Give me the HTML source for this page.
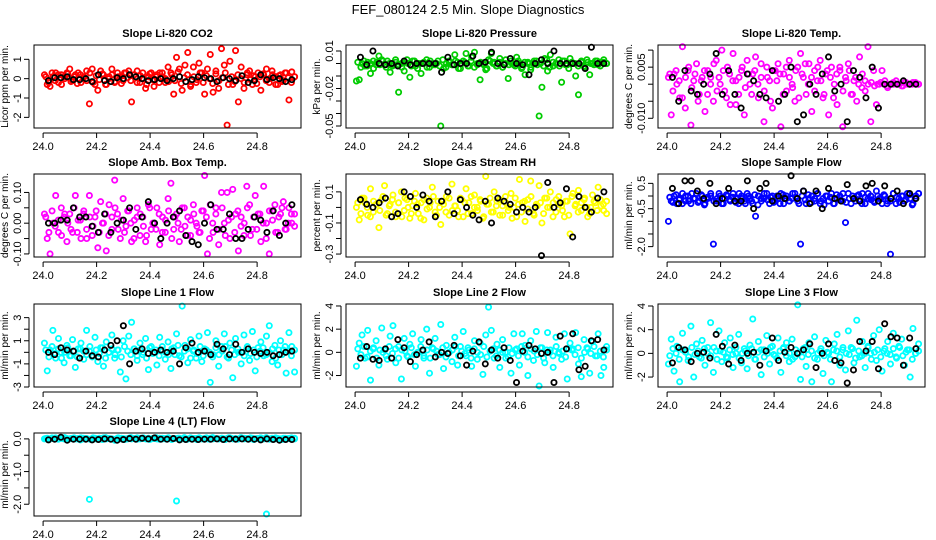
<!DOCTYPE html>
<html><head><meta charset="utf-8"><style>
body{margin:0;background:#fff}
svg{display:block;font-family:"Liberation Sans",Arial,sans-serif}
</style></head><body>
<svg id="chart" width="936" height="540" viewBox="0 0 936 540">
<text x="468" y="14" text-anchor="middle" font-size="13">FEF_080124  2.5 Min. Slope Diagnostics</text>
</svg>
<script>
const panelTitles=["Slope Li-820 CO2","Slope Li-820 Pressure","Slope Li-820 Temp.","Slope Amb. Box Temp.","Slope Gas Stream RH","Slope Sample Flow","Slope Line 1 Flow","Slope Line 2 Flow","Slope Line 3 Flow","Slope Line 4 (LT) Flow"];
const yTitles=["Licor ppm per min.","kPa per min.","degrees C per min.","degrees C per min.","percent per min.","ml/min per min.","ml/min per min.","ml/min per min.","ml/min per min.","ml/min per min."];
const seriesColors=["#ff0000","#00cc00","#ff00ff","#ff00ff","#ffff00","#0000ff","#00ffff","#00ffff","#00ffff","#00ffff"];
const yDomains=[[-2.55,1.74],[-0.0516,0.0148],[-0.01285,0.0115],[-0.11,0.16],[-0.319,0.215],[-2.41,0.87],[-3.0,4.18],[-2.99,4.17],[-2.84,4.17],[-2.36,0.18]];
const yTicks=[[-2,-1,0,1],[-0.05,-0.04,-0.03,-0.02,-0.01,0,0.01],[-0.01,-0.005,0,0.005,0.01],[-0.1,-0.05,0,0.05,0.1],[-0.3,-0.2,-0.1,0,0.1],[-2,-1.5,-1,-0.5,0,0.5],[-3,-2,-1,0,1,2,3],[-2,0,2,4],[-2,0,2,4],[-2,-1.5,-1,-0.5,0]];
const yTickLabels=[["-2","-1","0","1"],["-0.05","","","-0.02","","","0.01"],["-0.010","","","0.005",""],["-0.10","","0.00","","0.10"],["-0.3","","-0.1","","0.1"],["-2.0","","","-0.5","","0.5"],["-3","","-1","","1","","3"],["-2","0","2","4"],["-2","0","2","4"],["-2.0","","-1.0","","0.0"]];
const xTicks=[24.0,24.2,24.4,24.6,24.8];
const xTickLabels=["24.0","24.2","24.4","24.6","24.8"];
const xDomain=[23.966,24.964];

const colored0=[0.2,-0.3,-0.4,0.1,0.3,-0.2,0.2,0.1,0.3,0.5,-0.1,0.2,0.3,-0.2,0.1,0.4,-1.3,0.5,-0.3,-0.6,0.4,0.2,-0.3,0.1,0.5,-0.2,0.3,0.1,-0.1,0.3,0.4,-1.2,0.2,0.4,-0.2,0.3,-0.5,0.1,0.3,-0.4,0.2,0.3,0.1,-0.2,0.6,0.3,-0.8,1.1,0.5,-0.6,0.7,1.35,-0.4,0.6,-0.2,0.8,0.3,-0.8,0.5,1.25,-0.7,0.4,-0.5,1.55,0.7,-2.4,0.9,-0.3,1.45,-1.2,0.6,-0.5,0.2,0.4,-0.3,0.1,0.3,-0.6,0.2,0.5,-0.2,0.4,0.1,-0.3,0.2,-0.1,0.3,-1.1,0.35,0.1];
const black0=[-0.1,0.05,0.05,0.1,-0.05,-0.05,0,-0.15,0.2,-0.1,-0.15,0.05,0,0.2,0.1,0,-0.1,-0.05,0,-0.1,0,0.1,-0.15,-0.05,0.1,0.05,0,-0.15,0.05,0,-0.1,0.15,-0.2,-0.1,0.2,-0.05,0.05,0,-0.15,-0.05];
const band0=[0.1,-0.2,0.3,-0.1,0.2,-0.3,0.0,0.25,-0.15,0.1,-0.25,0.2,0.05,-0.1,0.3,-0.2,0.15,-0.05,0.25,-0.3,0.0,0.2,-0.15,0.1,-0.25,0.3,0.05,-0.1,0.2,-0.2,0.15,0.0,-0.3,0.25,-0.05,0.1,-0.2,0.3,0.0,-0.15,0.2,-0.1,0.35,-0.25,0.05,0.2,-0.3,0.1,-0.05,0.3,-0.2,0.15,0.0,-0.25,0.25,-0.1,0.05,0.3,-0.3,0.1,-0.15,0.2,0.0,-0.2,0.3,-0.05,0.15,-0.25,0.1,0.25,-0.1,0.0,0.2,-0.3,0.15,-0.15,0.3,0.05,-0.2,0.1];
const colored1=[-0.014,-0.013,0.0,-0.002,0.001,-0.008,0.002,-0.001,0.006,0.003,-0.001,0.002,-0.007,-0.001,0.001,-0.023,0.0,-0.006,0.003,-0.011,0.002,-0.002,0.0,-0.008,0.001,0.003,-0.003,0.0,-0.001,0.002,-0.05,-0.004,0.0,0.002,-0.001,0.007,0.001,-0.004,0.002,0.008,-0.002,0.005,0.009,-0.001,-0.013,0.0,-0.005,0.003,0.008,0.001,-0.002,0.004,-0.003,0.0,-0.012,0.002,-0.001,0.005,0.0,-0.003,-0.009,0.001,-0.005,0.0,0.002,-0.042,-0.019,0.004,-0.006,0.007,-0.002,0.0,0.003,-0.015,0.002,-0.001,0.004,0.0,-0.01,-0.025,0.001,-0.002,0.003,-0.009,0.0,0.002,-0.001,0.001,0.003,0.0];
const black1=[0.005,-0.001,0.01,0.0,-0.001,0.0,-0.002,0.002,-0.001,0.0,0.0,0.0,0.0,-0.007,0.005,-0.001,0.0,0.0,0.006,0.0,0.001,0.009,0.0,-0.001,0.004,0.0,-0.001,-0.009,0.0,0.003,0.0,0.01,0.0,0.0,0.0,0.0,-0.004,0.013,0.0,0.0];
const band1=[0.001,-0.003,0.002,-0.002,0.0,-0.004,0.001,-0.001,0.002,-0.003,0.0,-0.002,0.003,-0.001,-0.003,0.001,0.0,-0.002,0.002,-0.004,0.0,0.001,-0.003,0.002,-0.001,0.0,-0.002,0.003,-0.003,0.001,-0.001,0.002,-0.004,0.0,0.001,-0.002,0.002,-0.003,0.0,0.001,-0.001,-0.004,0.002,0.0,-0.002,0.001,-0.003,0.003,-0.001,0.0,-0.002,0.002,-0.004,0.001,0.0,-0.003,0.002,-0.001,0.0,-0.002,0.003,-0.003,0.001,0.0,-0.002,0.002,-0.001,-0.004,0.001,0.0,-0.002,0.002,-0.003,0.001,0.0,-0.001,0.002,-0.002,0.001,0.0];
const colored2=[0.002,-0.009,0.003,0.0,-0.004,0.011,-0.007,0.004,-0.012,0.001,0.006,-0.003,0.002,-0.008,0.004,0.0,-0.005,0.007,0.002,0.01,-0.002,0.005,-0.006,0.009,0.001,-0.003,0.004,-0.009,0.007,0.0,0.003,0.008,-0.004,0.002,-0.011,0.005,0.001,-0.007,0.004,0.006,-0.0125,0.003,-0.002,0.007,0.0,-0.005,0.005,0.009,0.002,-0.003,0.006,-0.008,0.004,0.001,0.007,-0.004,0.003,-0.009,0.005,0.0,-0.006,0.004,-0.0125,0.002,0.006,-0.003,0.001,-0.005,0.008,0.003,-0.002,0.011,-0.011,0.004,-0.006,0.0,0.004,0.001,-0.001,0.0,0.0,0.001,0.0,-0.0005,0.0005,0.0,0.0,0.0005,0.0,0.0];
const black2=[0.002,-0.005,0.004,-0.002,-0.003,0.0,0.003,0.009,-0.003,0.004,-0.003,-0.007,0.003,0.001,-0.003,-0.004,0.004,-0.005,-0.003,0.005,-0.011,-0.009,0.0,-0.003,0.003,0.008,-0.002,0.0,-0.011,0.004,0.002,-0.004,0.005,-0.007,0.0,0.0,0.0,0.001,0.0,0.0];
const band2=[0.003,-0.002,0.004,0.001,-0.004,0.002,0.005,-0.001,0.003,-0.005,0.001,0.004,-0.003,0.002,0.006,-0.002,0.0,0.004,-0.004,0.003,0.001,-0.006,0.002,0.005,-0.001,0.003,-0.003,0.004,0.0,0.006,-0.002,0.002,-0.005,0.004,0.001,0.003,-0.003,0.005,0.002,-0.001,0.004,-0.004,0.003,0.006,0.0,0.002,-0.002,0.005,0.001,-0.003,0.004,0.002,-0.004,0.003,0.005,-0.002,0.001,0.004,-0.003,0.002,0.0,-0.001,0.001,0.0,0.0005,-0.0005,0.0,0.0005,0.0,-0.0005,0.0,0.0005,0.0,0.0,-0.0005,0.0005,0.0,0.0,0.0005,0.0];
const colored3=[0.03,-0.05,-0.1,0.0,0.09,-0.03,0.05,0.02,-0.06,0.03,-0.03,0.09,0.01,-0.05,0.04,-0.02,0.09,-0.04,0.02,-0.08,0.07,0.0,-0.09,0.06,-0.02,0.14,0.03,-0.05,0.08,-0.01,0.04,-0.06,0.01,0.05,-0.04,0.02,-0.06,0.06,-0.02,0.0,0.05,-0.07,0.02,-0.03,0.08,0.13,-0.02,0.03,-0.06,0.05,-0.01,0.02,-0.04,0.06,0.0,-0.03,0.04,0.155,-0.1,0.06,-0.03,0.05,-0.07,0.1,0.0,0.1,-0.05,0.11,0.03,-0.09,0.02,-0.04,0.12,0.06,-0.02,0.09,0.03,-0.06,0.12,0.0,-0.1,0.04,0.06,-0.03,0.03,0.07,-0.02,0.05,0.0,0.03];
const black3=[0.0,0.0,0.01,0.01,0.05,0.02,0.02,-0.01,-0.03,0.03,-0.03,0.0,0.01,0.05,-0.02,0.02,0.07,0.0,-0.05,0.0,0.02,0.04,-0.04,-0.06,-0.07,0.0,0.06,-0.02,-0.02,0.03,-0.05,-0.05,-0.02,0.02,0.01,-0.03,0.04,-0.04,0.0,0.06];
const band3=[0.02,-0.03,0.04,-0.01,0.01,-0.04,0.03,0.0,-0.02,0.05,-0.03,0.01,0.03,-0.05,0.02,-0.01,0.04,-0.03,0.0,0.03,-0.04,0.02,0.05,-0.02,0.01,-0.03,0.04,0.0,-0.05,0.02,0.03,-0.01,-0.04,0.05,0.0,-0.02,0.03,-0.03,0.01,0.04,-0.05,0.02,0.0,-0.02,0.05,-0.04,0.01,0.03,-0.01,-0.03,0.04,0.02,-0.05,0.0,0.03,-0.02,0.05,-0.04,0.01,0.02,-0.03,0.04,-0.01,0.0,0.05,-0.04,0.02,-0.02,0.03,0.0,-0.05,0.04,0.01,-0.03,0.02,0.05,-0.02,0.0,0.03,-0.01];
const colored4=[0.0,-0.08,0.06,0.03,-0.05,0.12,-0.03,0.02,-0.13,0.05,0.14,-0.04,0.02,0.08,-0.06,0.03,0.1,-0.02,0.05,-0.07,0.01,0.09,-0.04,0.03,-0.08,0.06,0.0,0.13,-0.03,0.04,-0.11,0.02,0.07,-0.05,0.15,0.01,-0.02,0.06,-0.06,0.12,0.03,-0.04,0.08,0.0,0.05,-0.07,0.2,0.02,-0.03,0.1,0.04,-0.05,0.01,0.07,-0.02,0.09,0.0,-0.06,0.18,0.03,-0.09,0.05,0.17,-0.04,0.02,0.14,-0.1,0.06,0.0,0.1,0.03,-0.03,0.07,0.01,-0.06,0.04,-0.17,0.09,0.02,0.11,-0.02,0.05,0.0,-0.04,0.08,0.03,0.13,0.01,-0.02,0.04];
const black4=[0.05,0.02,0.0,0.03,0.06,-0.06,-0.04,0.1,0.07,0.0,0.08,0.04,-0.06,0.04,0.1,-0.04,0.05,0.0,-0.05,-0.08,0.04,-0.1,0.06,0.04,0.02,-0.03,0.0,-0.03,0.0,-0.31,0.16,0.0,0.03,0.12,-0.19,0.07,0.0,-0.03,0.06,0.1];
const band4=[0.03,-0.04,0.06,0.0,-0.06,0.04,0.02,-0.02,0.07,-0.05,0.01,0.05,-0.03,0.03,-0.06,0.06,0.0,-0.04,0.04,0.02,-0.07,0.05,-0.01,0.03,0.07,-0.05,0.0,0.04,-0.03,0.06,-0.02,0.01,-0.06,0.05,0.03,-0.04,0.07,0.0,-0.02,0.04,-0.06,0.02,0.06,-0.03,0.01,0.05,-0.05,0.03,0.0,-0.07,0.06,0.02,-0.03,0.04,-0.01,0.07,-0.05,0.01,0.03,-0.04,0.06,0.0,-0.06,0.05,0.02,-0.02,0.04,-0.05,0.07,0.01,-0.03,0.03,0.06,-0.06,0.0,0.04,-0.02,0.05,0.02,-0.04];
const colored5=[-1.0,-0.2,0.0,-0.3,-0.1,0.1,-0.2,0.0,-0.3,-0.1,0.1,-0.2,0.0,-0.3,-0.1,0.0,-1.9,-0.2,0.1,-0.3,-0.1,0.0,-0.2,0.1,-0.1,-0.3,0.0,-0.2,0.1,-0.1,-0.3,-0.8,0.0,-0.2,-0.1,0.1,-0.3,0.0,-0.2,-0.1,0.1,-0.3,0.0,-0.2,-0.1,0.1,-0.2,-1.9,0.2,-0.3,-0.1,0.0,-0.2,0.1,-0.3,-0.1,0.0,-0.2,0.1,-0.3,-0.1,0.0,-0.2,-1.05,0.1,-0.3,-0.1,0.0,-0.2,0.1,-0.3,-0.1,0.0,-0.2,0.2,-0.1,-0.3,0.0,-0.2,-2.3,0.1,-0.3,-0.1,0.0,-0.2,0.1,-0.1,-0.3,0.0,0.1];
const black5=[0.3,-0.3,0.6,0.6,0.2,-0.1,0.5,-0.3,-0.1,0.3,-0.2,-0.2,0.6,-0.5,0.3,0.5,-0.2,0.0,-0.1,0.8,-0.1,0.2,-0.3,0.2,-0.5,0.3,-0.1,-0.2,0.45,-0.1,-0.2,0.4,0.5,-0.2,0.4,-0.1,0.2,-0.3,0.1,-0.1];
const band5=[-0.05,-0.25,0.05,-0.15,-0.3,0.0,-0.2,0.1,-0.1,-0.25,0.05,-0.35,-0.05,0.1,-0.2,-0.1,0.0,-0.3,0.05,-0.15,-0.05,-0.25,0.1,-0.1,-0.3,0.0,-0.2,0.05,-0.35,-0.1,0.1,-0.15,-0.05,-0.25,0.0,-0.3,0.05,-0.1,-0.2,0.1,-0.05,-0.3,0.0,-0.15,0.05,-0.25,-0.1,0.1,-0.2,-0.35,0.0,-0.05,-0.3,0.05,-0.15,0.1,-0.25,-0.1,0.0,-0.2,0.05,-0.3,-0.05,0.1,-0.15,-0.25,0.0,-0.1,0.05,-0.3,-0.2,0.1,-0.05,-0.25,0.0,-0.15,0.05,-0.35,-0.1,0.1];
const colored6=[0.8,-1.6,0.2,1.9,-0.5,1.2,0.0,-0.9,0.6,-0.3,1.1,-1.3,0.3,0.8,-0.6,1.9,0.1,-0.4,1.3,-0.8,0.4,-1.2,0.9,0.0,1.5,-0.5,0.2,-1.7,1.0,-2.3,1.4,2.6,0.3,-0.7,0.8,-0.2,1.2,-1.5,0.5,0.0,-1.1,1.3,0.2,-0.6,0.9,-1.4,0.4,1.6,-0.3,4.0,0.6,-0.9,1.1,0.1,-0.5,1.4,-0.8,0.3,1.7,-2.6,-0.2,1.0,-1.2,0.5,1.6,-0.4,0.8,-2.2,1.2,0.0,-1.0,1.5,0.3,-0.7,1.8,-1.6,0.4,0.9,-0.3,1.4,2.3,-0.8,0.6,-1.1,1.0,0.2,-1.8,1.7,0.5,-1.7];
const black6=[0.0,-0.2,0.4,0.2,0.1,-0.5,0.1,-0.3,-0.4,0.2,0.6,1.0,2.3,-1.0,0.1,0.3,-0.1,0.0,0.2,0.0,0.1,-1.0,0.4,0.8,0.0,0.1,-0.2,0.7,0.3,-0.2,0.7,0.0,0.3,0.0,-0.1,0.0,-0.3,-0.2,0.0,0.1];
const band6=[0.2,-0.4,0.5,-0.1,0.3,-0.5,0.0,0.4,-0.3,0.1,-0.4,0.3,0.1,-0.2,0.5,-0.3,0.2,-0.1,0.4,-0.5,0.0,0.3,-0.2,0.2,-0.4,0.5,0.1,-0.2,0.3,-0.3,0.2,0.0,-0.5,0.4,-0.1,0.2,-0.3,0.5,0.0,-0.2,0.3,-0.2,0.6,-0.4,0.1,0.3,-0.5,0.2,-0.1,0.5,-0.3,0.2,0.0,-0.4,0.4,-0.2,0.1,0.5,-0.5,0.2,-0.2,0.3,0.0,-0.3,0.5,-0.1,0.2,-0.4,0.1,0.4,-0.2,0.0,0.3,-0.5,0.2,-0.2,0.5,0.1,-0.3,0.2];
const colored7=[-1.2,0.8,1.5,-0.5,1.9,-2.4,0.3,1.0,-1.1,2.1,0.2,-0.6,1.4,2.3,-0.9,0.5,-2.3,1.2,-0.3,0.7,1.6,-1.2,0.0,1.1,-0.5,2.0,-1.8,0.4,1.2,-0.2,2.4,-1.4,0.6,0.0,-0.8,1.3,-1.1,0.5,1.8,-0.3,0.2,-1.2,1.0,-0.6,0.8,-1.9,1.5,3.9,1.9,-0.5,0.7,-1.3,1.1,0.0,-0.4,-1.8,1.6,0.3,-1.1,1.6,0.6,-2.0,1.0,-0.7,1.8,-2.9,0.4,-0.9,1.7,0.2,-1.3,1.3,0.0,-0.6,1.6,-2.3,0.8,0.3,1.7,-1.0,-2.1,1.1,0.4,-1.8,0.9,-0.3,1.6,-2.0,-1.3,0.5];
const black7=[-0.5,0.5,-0.6,-0.7,0.3,-0.5,1.1,0.4,-0.8,-0.2,0.2,0.9,-0.4,0.0,-0.1,0.6,-0.3,-1.1,0.1,0.9,-1.0,0.2,-0.5,0.4,-0.7,-2.6,0.1,0.6,0.3,-0.1,0.0,-2.6,1.4,0.3,1.6,-1.5,-1.2,1.0,1.1,0.2];
const band7=[0.3,-0.2,0.5,-0.4,0.1,0.4,-0.5,0.2,0.0,-0.3,0.5,-0.1,0.3,-0.5,0.2,0.1,-0.4,0.4,-0.2,0.0,0.5,-0.3,0.2,-0.5,0.3,0.1,-0.2,0.4,-0.4,0.0,0.2,0.5,-0.3,0.1,-0.1,0.4,-0.5,0.3,0.0,-0.2,0.5,-0.4,0.1,0.3,-0.3,0.2,0.0,-0.5,0.4,-0.1,0.2,-0.3,0.5,0.0,-0.4,0.3,0.1,-0.2,0.4,-0.5,0.2,0.0,-0.3,0.5,-0.1,0.1,-0.4,0.3,0.2,-0.2,0.4,-0.5,0.0,0.3,-0.1,0.5,-0.3,0.1,-0.4,0.2];
const colored8=[-0.9,1.2,-1.5,0.6,-2.4,1.7,0.3,-0.6,2.3,-2.0,0.8,-0.3,1.1,-1.0,0.5,2.6,-1.6,0.2,1.9,-0.7,0.9,-0.4,1.3,-1.2,0.0,1.6,-0.8,0.4,-1.3,0.7,2.9,-0.5,1.0,-1.8,0.3,1.5,-0.9,0.6,-0.2,1.3,-1.6,0.5,0.9,-0.7,1.2,-0.3,4.1,-2.2,0.4,-1.1,0.9,-2.4,1.4,-0.5,0.2,-1.7,1.1,0.0,-2.4,0.8,1.6,-1.0,0.3,-1.4,1.9,0.5,-0.8,2.8,-0.3,1.0,-1.2,0.6,0.0,1.5,-0.6,2.0,-1.5,0.4,1.0,-0.9,1.7,-0.3,0.6,1.2,-1.0,0.3,-2.0,2.1,0.0,0.8];
const black8=[-0.8,0.5,0.3,-0.7,0.0,0.1,-0.4,1.6,0.6,-0.9,0.7,-0.6,0.0,0.1,-1.0,0.2,1.3,-0.6,0.1,0.5,0.0,0.3,0.8,-1.2,0.0,0.8,-0.6,-0.8,-2.5,-1.4,1.0,0.2,1.0,-1.3,2.5,1.4,1.3,-1.0,1.3,0.4];
const band8=[-0.2,0.4,0.0,-0.5,0.3,0.1,-0.3,0.5,-0.1,0.2,-0.4,0.4,0.0,-0.2,0.5,-0.5,0.2,0.1,-0.3,0.3,-0.1,0.5,-0.4,0.0,0.2,-0.2,0.4,-0.5,0.1,0.3,-0.3,0.0,0.5,-0.1,-0.4,0.2,0.4,-0.2,0.0,-0.5,0.3,0.1,-0.3,0.5,-0.1,0.2,-0.4,0.0,0.4,-0.2,0.1,-0.5,0.3,0.2,-0.3,0.5,0.0,-0.1,0.4,-0.4,0.2,-0.2,0.0,0.5,-0.5,0.1,0.3,-0.3,0.2,0.0,-0.1,0.4,-0.4,0.5,-0.2,0.1,0.3,-0.5,0.0,0.2];
const colored9=[0.0,0.02,0.0,0.01,0.03,0.0,0.02,0.0,0.01,0.0,0.02,0.0,0.01,0.03,0.0,0.01,-1.85,0.0,0.02,0.0,0.01,0.03,0.0,0.01,0.0,-0.04,0.02,0.0,0.01,0.0,0.02,0.0,0.01,0.03,0.0,0.01,0.0,0.02,0.0,0.01,0.0,0.02,0.0,0.01,0.03,0.0,0.01,-1.9,0.02,0.0,0.01,0.0,0.02,0.0,0.01,0.03,0.0,0.01,0.0,0.02,0.0,0.01,0.0,0.02,0.0,0.01,0.03,0.0,0.01,0.0,0.02,0.0,0.01,0.0,0.02,0.0,0.01,0.03,0.0,-2.3,0.0,0.02,0.0,0.01,0.0,0.02,0.0,0.01,0.0,0.02];
const black9=[-0.03,-0.01,0.05,-0.04,-0.01,-0.01,-0.01,-0.03,-0.02,0.0,-0.01,-0.04,-0.02,0.01,-0.01,0.02,0.0,0.03,-0.01,-0.01,0.01,-0.03,-0.02,-0.01,-0.02,-0.01,-0.01,0.0,-0.02,0.0,-0.01,0.0,-0.01,-0.01,-0.03,0.0,-0.02,-0.04,-0.02,-0.02];
const band9=[0.01,-0.02,0.03,0.0,-0.01,0.02,0.04,-0.02,0.01,0.03,0.0,-0.03,0.02,0.01,-0.01,0.03,0.0,0.02,-0.02,0.04,0.01,0.0,-0.01,0.03,0.02,-0.02,0.0,0.04,0.01,-0.01,0.02,0.03,0.0,-0.02,0.01,0.04,-0.01,0.02,0.0,0.03,-0.02,0.01,0.02,0.0,0.04,-0.01,0.03,0.01,-0.02,0.02,0.0,0.03,-0.01,0.04,0.01,0.0,0.02,-0.02,0.03,0.01,0.0,-0.01,0.04,0.02,0.0,0.03,-0.02,0.01,0.02,0.0,0.04,-0.01,0.01,0.03,0.0,-0.02,0.02,0.01,0.03,0.0];
const coloredSeries=[colored0,colored1,colored2,colored3,colored4,colored5,colored6,colored7,colored8,colored9];
const bandSeries=[band0,band1,band2,band3,band4,band5,band6,band7,band8,band9];
const blackSeries=[black0,black1,black2,black3,black4,black5,black6,black7,black8,black9];

const NS="http://www.w3.org/2000/svg";
const svg=document.getElementById('chart');
function mk(tag,attrs,parent){const e=document.createElementNS(NS,tag);for(const k in attrs)e.setAttribute(k,attrs[k]);(parent||svg).appendChild(e);return e;}
const BOX_W=267,BOX_H=83;
const colLeft=[34,346,658];
const rowTop=[45,174,304,433];

for(let p=0;p<10;p++){
  const L=colLeft[p%3],T=rowTop[Math.floor(p/3)],R=L+BOX_W,B=T+BOX_H;
  const g=mk('g',{});
  
  
  const xs=v=>L+(v-xDomain[0])/(xDomain[1]-xDomain[0])*BOX_W;
  const yd=yDomains[p];
  const ys=v=>B-(v-yd[0])/(yd[1]-yd[0])*BOX_H;
  const t=mk('text',{x:(L+R)/2,y:T-8,'text-anchor':'middle','font-size':11,'font-weight':'bold'},g);
  t.textContent=panelTitles[p];
  
  
  const pts=mk('g',{fill:'none','stroke-width':1.8},g);
  
  
  const bd=bandSeries[p];
  bd.forEach((v,i)=>{
    const tm=24.01+i*(0.93/(bd.length-1));
    const c=mk('circle',{cx:xs(tm),cy:ys(v),r:2.6,stroke:seriesColors[p]},pts);
    
    
  });
  const cs=coloredSeries[p];
  cs.forEach((v,i)=>{
    const tm=24.005+i*(0.935/(cs.length-1));
    const c=mk('circle',{cx:xs(tm),cy:ys(v),r:2.6,stroke:seriesColors[p]},pts);
    
    
  });
  const bs=blackSeries[p];
  bs.forEach((v,i)=>{
    const tm=24.02+i*(0.91/(bs.length-1));
    const c=mk('circle',{cx:xs(tm),cy:ys(v),r:2.6,stroke:'#000'},pts);
    
    
  });
  const box=mk('rect',{x:L,y:T,width:BOX_W,height:BOX_H,fill:'none',stroke:'#000','stroke-width':1},g);
  
  
  const xa=mk('g',{},g);
  
  
  mk('line',{x1:xs(xTicks[0]),x2:xs(xTicks[xTicks.length-1]),y1:B+5,y2:B+5,stroke:'#000'},xa);
  xTicks.forEach((v,i)=>{
    mk('line',{x1:xs(v),x2:xs(v),y1:B+5,y2:B+10,stroke:'#000'},xa);
    const tl=mk('text',{x:xs(v),y:B+22,'text-anchor':'middle','font-size':11},xa);
    tl.textContent=xTickLabels[i];
    
    
  });
  const ya=mk('g',{},g);
  
  
  const tk=yTicks[p];
  mk('line',{x1:L-5,x2:L-5,y1:ys(tk[0]),y2:ys(tk[tk.length-1]),stroke:'#000'},ya);
  tk.forEach((v,i)=>{
    const y=ys(v);
    mk('line',{x1:L-10,x2:L-5,y1:y,y2:y,stroke:'#000'},ya);
    if(yTickLabels[p][i]){
      const tl=mk('text',{x:0,y:0,'text-anchor':'middle','font-size':11,transform:`translate(${L-13},${y}) rotate(-90)`},ya);
      tl.textContent=yTickLabels[p][i];
      
      
    }
  });
  const yt=mk('text',{x:0,y:0,'text-anchor':'middle','font-size':10,transform:`translate(${L-26},${(T+B)/2}) rotate(-90)`},ya);
  yt.textContent=yTitles[p];
  
  
}
</script>
</body></html>
